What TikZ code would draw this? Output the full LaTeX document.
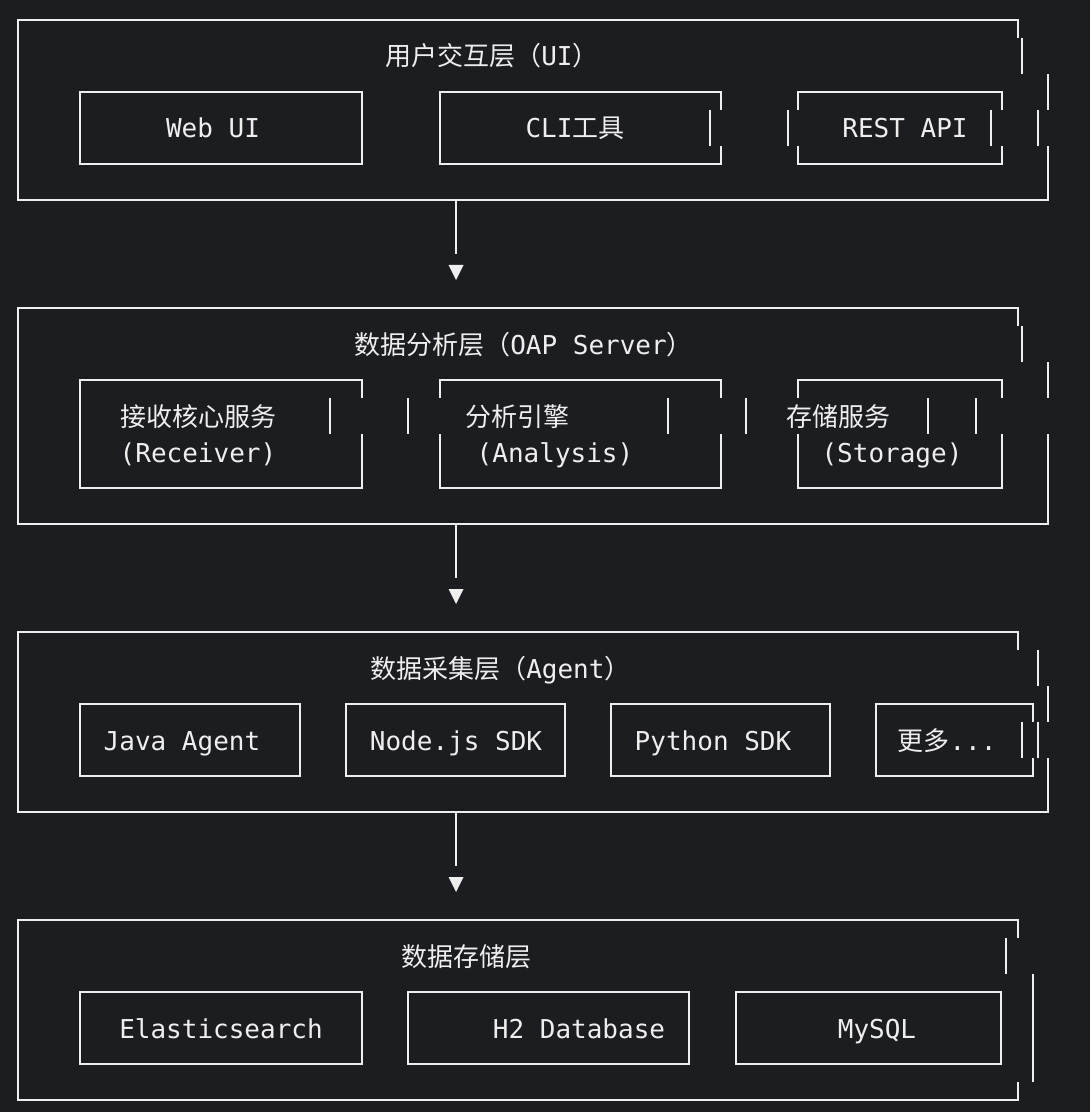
\documentclass[tikz,border=0pt]{standalone}
\usepackage{fontspec}
\setmonofont{DejaVu Sans Mono}
\newfontfamily\cjk{Noto Sans CJK SC}
\usetikzlibrary{calc}
\definecolor{bg}{HTML}{1C1D21}
\definecolor{fg}{HTML}{EEEEEE}
% one text row of the grid is 36 units high
\newcommand{\edgetop}[3]{\draw[wall] (#1,#3+18) -- (#1,#3) -- (#2,#3) -- (#2,#3+18);}
\newcommand{\edgebot}[3]{\draw[wall] (#1,#3-18) -- (#1,#3) -- (#2,#3) -- (#2,#3-18);}
\newcommand{\wallseg}[2]{\draw[wall] (#1,#2-18) -- (#1,#2+18);}
\tikzset{
    wall/.style = {draw = fg, line width = 1.9pt},
    link/.style = {draw = fg, line width = 1.9pt},
    boxtext/.style = {text = fg, inner sep = 0pt, anchor = base, font = \ttfamily\fontsize{19.5}{23}\selectfont},
    layertitle/.style = {boxtext, anchor = base west}
}

\begin{document}
\begin{tikzpicture}[x = 0.75pt, y = -0.75pt]
    \fill[bg] (0,0) rectangle (1090,1112);

    % user interaction layer
    \draw[wall] (1018,38) -- (1018,20) -- (18,20) -- (18,200) -- (1048,200) -- (1048,182);
    \wallseg{1022}{56} \wallseg{1048}{92} \wallseg{1038}{128} \wallseg{1048}{164}
    \foreach \l/\r in {80/362, 440/721, 798/1002} {\edgetop{\l}{\r}{92} \edgebot{\l}{\r}{164}}
    \foreach \x in {80, 362, 440, 710, 788, 991} {\wallseg{\x}{128}}
    \node [layertitle] (uiTitle) at (385,66) {{\cjk 用户交互层（}UI{\cjk ）}};
    \node [boxtext] (webui) at (213,138) {Web UI};
    \node [boxtext] (cli) at (575,138) {CLI{\cjk 工具}};
    \node [boxtext] (rest) at (905,138) {REST API};

    % analysis layer
    \draw[wall] (1018,326) -- (1018,308) -- (18,308) -- (18,524) -- (1048,524) -- (1048,506);
    \wallseg{1022}{344} \wallseg{1048}{380} \wallseg{976}{416} \wallseg{1048}{452} \wallseg{1048}{488}
    \foreach \l/\r in {80/362, 440/721, 798/1002} {\edgetop{\l}{\r}{380} \edgebot{\l}{\r}{488}}
    \foreach \x in {80, 330, 408, 668, 746, 928} {\wallseg{\x}{416}}
    \foreach \x in {80, 362, 440, 721, 798, 1002} {\wallseg{\x}{452}}
    \node [layertitle] (oapTitle) at (354,354) {{\cjk 数据分析层（}OAP Server{\cjk ）}};
    \node [layertitle] (receiver) at (120,426) {{\cjk 接收核心服务}};
    \node [boxtext] (receiverEn) at (198,462) {(Receiver)};
    \node [layertitle] (analysis) at (465,426) {{\cjk 分析引擎}};
    \node [boxtext] (analysisEn) at (555,462) {(Analysis)};
    \node [layertitle] (storage) at (786,426) {{\cjk 存储服务}};
    \node [boxtext] (storageEn) at (892,462) {(Storage)};

    % collection layer
    \draw[wall] (1018,650) -- (1018,632) -- (18,632) -- (18,812) -- (1048,812) -- (1048,794);
    \wallseg{1038}{668} \wallseg{1048}{704} \wallseg{1038}{740} \wallseg{1048}{776}
    \foreach \l/\r in {80/300, 346/565, 611/830, 876/1033} {\edgetop{\l}{\r}{704} \edgebot{\l}{\r}{776}}
    \foreach \x in {80, 300, 346, 565, 611, 830, 876, 1022} {\wallseg{\x}{740}}
    \node [layertitle] (agentTitle) at (370,678) {{\cjk 数据采集层（}Agent{\cjk ）}};
    \node [boxtext] (java) at (182,750) {Java Agent};
    \node [boxtext] (nodejs) at (456,750) {Node.js SDK};
    \node [boxtext] (python) at (713,750) {Python SDK};
    \node [boxtext] (more) at (947,750) {{\cjk 更多}...};

    % storage layer
    \draw[wall] (1018,938) -- (1018,920) -- (18,920) -- (18,1100) -- (1018,1100) -- (1018,1082);
    \wallseg{1006}{956} \wallseg{1033}{992} \wallseg{1033}{1028} \wallseg{1033}{1064}
    \foreach \l/\r in {80/362, 408/689, 736/1001} {\edgetop{\l}{\r}{992} \edgebot{\l}{\r}{1064}}
    \foreach \x in {80, 362, 408, 689, 736, 1001} {\wallseg{\x}{1028}}
    \node [layertitle] (storeTitle) at (401,966) {{\cjk 数据存储层}};
    \node [boxtext] (es) at (221,1038) {Elasticsearch};
    \node [boxtext] (h2) at (579,1038) {H2 Database};
    \node [boxtext] (mysql) at (877,1038) {MySQL};

    % arrows between the layers
    \coordinate (uiBot) at (456,200);
    \coordinate (oapTip) at (456,280);
    \coordinate (oapBot) at (456,524);
    \coordinate (agentTip) at (456,604);
    \coordinate (agentBot) at (456,812);
    \coordinate (storeTip) at (456,892);
    \foreach \a/\b in {uiBot/oapTip, oapBot/agentTip, agentBot/storeTip} {
        \draw[link] (\a) -- ($(\a)!0.675!(\b)$);
        \fill[fg] (\b) -- ++(-7.5,-15) -- ++(15,0) -- cycle;
    }
\end{tikzpicture}
\end{document}
